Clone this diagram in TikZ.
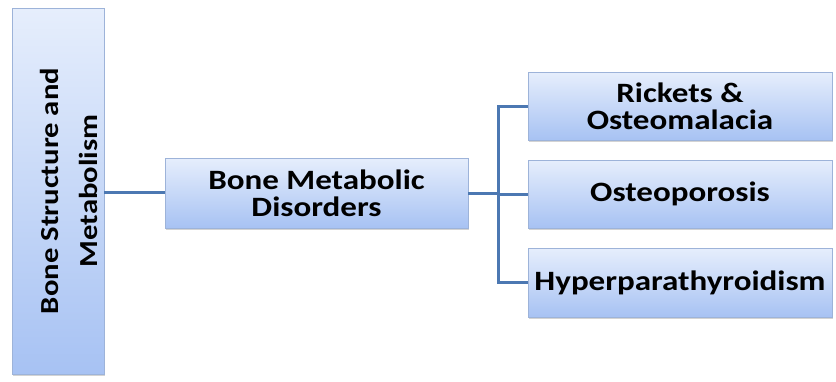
\documentclass[tikz,border=0pt]{standalone}
\usepackage{fontspec}
\newfontfamily\boxfont{Carlito}[FakeStretch=1.18]
\usetikzlibrary{positioning, shadows}
\definecolor{boxtop}{HTML}{E6EEFC}
\definecolor{boxbot}{HTML}{A7C2F3}
\definecolor{boxline}{HTML}{9DB3D9}
\definecolor{linkblue}{HTML}{4C78B2}
\tikzset{
    box/.style={draw=boxline, line width=0.8pt, top color=boxtop, bottom color=boxbot,
        drop shadow={opacity=0.35, shadow xshift=1.2pt, shadow yshift=-1.5pt},
        align=center, inner sep=1pt, font=\boxfont\bfseries\fontsize{28}{27}\selectfont},
    link/.style={draw=linkblue, line width=3pt}
}

\begin{document}
\begin{tikzpicture}[x=1pt, y=-1pt]
    \useasboundingbox (0,0) rectangle (836,381);
    % Main topic
    \node[box, minimum width=92pt, minimum height=366pt,
        font=\boxfont\bfseries\fontsize{26}{39}\selectfont] (side) at (58,191)
        {\makebox[0pt]{\rotatebox{90}{\begin{tabular}{@{}c@{}}\rule{0pt}{51pt}Bone Structure and\\Metabolism\end{tabular}}}};
    % Group
    \node[box, minimum width=303pt, minimum height=70pt] (mid) at (316.5,193) {Bone Metabolic\\Disorders};
    % Disorders
    \node[box, minimum width=304pt, minimum height=68pt] (r1) at (680,106) {Rickets \&\\Osteomalacia};
    \node[box, minimum width=304pt, minimum height=68pt] (r2) at (680,194) {Osteoporosis};
    \node[box, minimum width=304pt, minimum height=69pt] (r3) at (680,282.5) {Hyperparathyroidism};
    % Connectors
    \coordinate (bus) at (498,193);
    \draw[link] (side.east |- 0,192) -- (mid.west |- 0,192);
    \draw[link] (mid.east) -- (bus);
    \foreach \n in {r1,r2,r3}
        \draw[link] (bus) |- (\n.west);
\end{tikzpicture}
\end{document}
